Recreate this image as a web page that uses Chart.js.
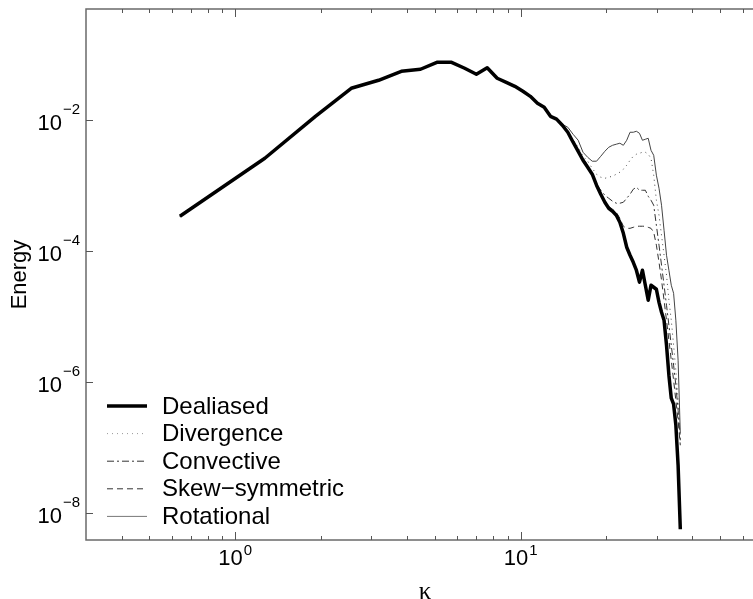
<!DOCTYPE html>
<html>
<head>
<meta charset="utf-8">
<script src="https://cdn.jsdelivr.net/npm/chart.js@4.4.1/dist/chart.umd.min.js"></script>
<style>
  html, body { margin: 0; padding: 0; background: #fff; overflow: hidden; }
  canvas { display: block; }
</style>
</head>
<body>
<canvas id="spectrum" width="780" height="599"></canvas>
<script>
// wavenumbers (kappa), one per shell
const kappa = [0.64, 1.27, 1.91, 2.55, 3.18, 3.82, 4.46, 5.09, 5.73, 6.37,
  7.00, 7.64, 8.28, 8.91, 9.55, 10.19, 10.82, 11.46, 12.10, 12.73,
  13.37, 14.01, 14.64, 15.28, 15.92, 16.55, 17.19, 17.83, 18.46, 19.10,
  19.74, 20.37, 21.01, 21.65, 22.28, 22.92, 23.55, 24.19, 24.83, 25.46,
  26.10, 26.74, 27.37, 28.01, 28.65, 29.28, 29.92, 30.56, 31.19, 31.83,
  32.47, 33.10, 33.74, 34.38, 35.01, 35.65, 36.29];

// low wavenumbers: all schemes lie on top of each other (k = 0.64 .. 13.37)
const commonLow = [3.42e-4, 2.63e-3, 1.15e-2, 3.08e-2, 4.08e-2, 5.60e-2, 6.01e-2, 7.68e-2, 7.68e-2, 6.22e-2,
  5.04e-2, 6.34e-2, 4.38e-2, 3.80e-2, 3.30e-2, 2.77e-2, 2.32e-2, 1.82e-2, 1.58e-2, 1.15e-2,
  1.04e-2];

const dealiasedHigh = [8.39e-3, 6.56e-3, 4.62e-3, 3.36e-3, 2.45e-3, 1.92e-3, 1.50e-3, 1.02e-3, 7.41e-4,
  5.60e-4, 4.53e-4, 4.08e-4, 3.55e-4, 2.77e-4, 1.88e-4, 1.15e-4, 8.69e-5, 6.79e-5, 5.13e-5,
  3.37e-5, 5.13e-5, 3.03e-5, 1.79e-5, 3.03e-5, 2.82e-5, 2.63e-5, 1.66e-5, 1.17e-5, 8.85e-6,
  3.67e-6, 1.28e-6, 5.70e-7, 4.62e-7, 2.21e-7, 5.41e-8, 5.70e-9];

const divergenceHigh = [8.39e-3, 6.79e-3, 4.95e-3, 3.87e-3, 2.82e-3, 2.37e-3, 1.85e-3, 1.50e-3, 1.35e-3,
  1.30e-3, 1.35e-3, 1.40e-3, 1.50e-3, 1.61e-3, 1.79e-3, 2.06e-3, 2.45e-3, 2.82e-3, 3.03e-3,
  3.13e-3, 3.25e-3, 3.25e-3, 3.03e-3, 2.63e-3, 1.45e-3, 6.01e-4, 3.55e-4, 1.75e-4, 8.69e-5,
  4.31e-5, 1.79e-5, 8.85e-6, 3.67e-6, 1.52e-6, 5.31e-7, 1.30e-7];

const convectiveHigh = [8.39e-3, 6.56e-3, 4.62e-3, 3.48e-3, 2.63e-3, 2.06e-3, 1.45e-3, 1.05e-3, 8.54e-4,
  7.16e-4, 6.44e-4, 5.80e-4, 5.41e-4, 5.41e-4, 5.60e-4, 6.44e-4, 7.41e-4, 8.85e-4, 9.49e-4,
  8.54e-4, 8.54e-4, 8.54e-4, 6.91e-4, 6.01e-4, 5.04e-4, 2.49e-4, 1.24e-4, 6.11e-5, 3.03e-5,
  1.50e-5, 7.42e-6, 3.67e-6, 1.82e-6, 9.00e-7, 3.74e-7, 1.30e-7];

const skewHigh = [8.39e-3, 6.56e-3, 4.62e-3, 3.36e-3, 2.45e-3, 1.92e-3, 1.50e-3, 1.02e-3, 7.41e-4,
  5.60e-4, 4.86e-4, 4.38e-4, 3.94e-4, 3.19e-4, 2.41e-4, 2.24e-4, 2.24e-4, 2.32e-4, 2.41e-4,
  2.41e-4, 2.41e-4, 2.41e-4, 2.32e-4, 2.24e-4, 1.95e-4, 1.24e-4, 6.79e-5, 3.61e-5, 1.79e-5,
  8.85e-6, 4.38e-6, 2.17e-6, 1.07e-6, 5.31e-7, 2.63e-7, 1.09e-7];

const rotationalHigh = [8.69e-3, 7.82e-3, 6.11e-3, 4.95e-3, 3.25e-3, 2.72e-3, 2.37e-3, 2.37e-3, 2.82e-3,
  3.36e-3, 3.87e-3, 4.15e-3, 4.31e-3, 4.46e-3, 4.15e-3, 4.95e-3, 6.56e-3, 6.56e-3, 6.79e-3,
  6.33e-3, 4.95e-3, 5.13e-3, 5.31e-3, 3.48e-3, 2.92e-3, 1.45e-3, 9.16e-4, 5.04e-4, 2.09e-4,
  8.69e-5, 5.13e-5, 3.03e-5, 2.28e-5, 8.85e-6, 2.17e-6, 1.66e-7];

const seriesNames = ['Dealiased', 'Divergence', 'Convective', 'Skew\u2212symmetric', 'Rotational'];

const xMajor = [1, 10];
const xMajorExp = ['0', '1'];
const xMinor = [0.4, 0.5, 0.6, 0.7, 0.8, 0.9, 2, 3, 4, 5, 6, 7, 8, 9, 20, 30, 40, 50, 60, 70];
const yMajor = [1e-2, 1e-4, 1e-6, 1e-8];
const yMajorExp = ['\u22122', '\u22124', '\u22126', '\u22128'];

function pts(values) {
    return values.map((v, i) => ({ x: kappa[i], y: v }));
}

const FONT = '"Liberation Sans", Arial, sans-serif';

// MATLAB-ish axes: box, inward ticks, 10^n labels, legend in the lower left
const axesPlugin = {
    id: 'matlabAxes',
    afterDraw(chart) {
        const ctx = chart.ctx;
        const ca = chart.chartArea;
        const xs = chart.scales.x;
        const ys = chart.scales.y;

        ctx.save();
        ctx.strokeStyle = '#6a6a6a';
        ctx.lineWidth = 1.5;
        ctx.strokeRect(ca.left, ca.top, ca.right - ca.left, ca.bottom - ca.top);

        ctx.lineWidth = 1;
        ctx.strokeStyle = '#555';
        ctx.beginPath();
        xMinor.forEach(v => {
            const px = Math.round(xs.getPixelForValue(v)) + 0.5;
            ctx.moveTo(px, ca.bottom); ctx.lineTo(px, ca.bottom - 4);
            ctx.moveTo(px, ca.top); ctx.lineTo(px, ca.top + 4);
        });
        xMajor.forEach(v => {
            const px = Math.round(xs.getPixelForValue(v)) + 0.5;
            ctx.moveTo(px, ca.bottom); ctx.lineTo(px, ca.bottom - 8);
            ctx.moveTo(px, ca.top); ctx.lineTo(px, ca.top + 8);
        });
        yMajor.forEach(v => {
            const py = Math.round(ys.getPixelForValue(v)) + 0.5;
            ctx.moveTo(ca.left, py); ctx.lineTo(ca.left + 7, py);
            ctx.moveTo(ca.right, py); ctx.lineTo(ca.right - 7, py);
        });
        ctx.stroke();

        // tick labels
        ctx.fillStyle = '#000';
        ctx.textBaseline = 'alphabetic';
        xMajor.forEach((v, i) => {
            const px = xs.getPixelForValue(v);
            ctx.font = '22px ' + FONT;
            const w1 = ctx.measureText('10').width;
            ctx.font = '15px ' + FONT;
            const w2 = ctx.measureText(xMajorExp[i]).width;
            const x0 = px - (w1 + w2 + 1) / 2;
            ctx.font = '22px ' + FONT;
            ctx.textAlign = 'left';
            ctx.fillText('10', x0, ca.bottom + 25);
            ctx.font = '15px ' + FONT;
            ctx.fillText(xMajorExp[i], x0 + w1 + 1, ca.bottom + 15);
        });
        yMajor.forEach((v, i) => {
            const py = ys.getPixelForValue(v);
            ctx.font = '15px ' + FONT;
            ctx.textAlign = 'right';
            const right = ca.left - 6;
            const w2 = ctx.measureText(yMajorExp[i]).width;
            ctx.fillText(yMajorExp[i], right, py - 6);
            ctx.font = '22px ' + FONT;
            ctx.fillText('10', right - w2 - 1, py + 10);
        });

        // axis titles
        ctx.textAlign = 'center';
        ctx.font = '25px "Liberation Serif", "DejaVu Serif", serif';
        ctx.fillText('\u03ba', (ca.left + ca.right) / 2, ca.bottom + 59);
        ctx.save();
        ctx.translate(20, (ca.top + ca.bottom) / 2);
        ctx.rotate(-Math.PI / 2);
        ctx.font = '22px ' + FONT;
        ctx.textBaseline = 'middle';
        ctx.fillText('Energy', 0, 0);
        ctx.restore();

        // legend
        ctx.textAlign = 'left';
        ctx.textBaseline = 'middle';
        ctx.font = '24px ' + FONT;
        chart.data.datasets.forEach((ds, i) => {
            const y = ca.bottom - 134 + i * 27.6;
            ctx.save();
            ctx.strokeStyle = ds.legendColor || ds.borderColor;
            ctx.lineWidth = ds.borderWidth;
            ctx.setLineDash(ds.borderDash || []);
            ctx.beginPath();
            ctx.moveTo(ca.left + 21, y);
            ctx.lineTo(ca.left + 61, y);
            ctx.stroke();
            ctx.restore();
            ctx.fillStyle = '#000';
            ctx.fillText(ds.label, ca.left + 76, y + 1);
        });
        ctx.restore();
    }
};

const data = {
    datasets: [{
        label: seriesNames[0],
        data: pts(commonLow.concat(dealiasedHigh)),
        borderColor: '#000',
        borderWidth: 3.5
    }, {
        label: seriesNames[1],
        data: pts(commonLow.concat(divergenceHigh)),
        borderColor: '#444',
        legendColor: '#999',
        borderWidth: 1,
        borderDash: [1, 4]
    }, {
        label: seriesNames[2],
        data: pts(commonLow.concat(convectiveHigh)),
        borderColor: '#333',
        borderWidth: 1,
        borderDash: [7, 3, 2, 3]
    }, {
        label: seriesNames[3],
        data: pts(commonLow.concat(skewHigh)),
        borderColor: '#333',
        borderWidth: 1,
        borderDash: [6, 4]
    }, {
        label: seriesNames[4],
        data: pts(commonLow.concat(rotationalHigh)),
        borderColor: '#444',
        legendColor: '#777',
        borderWidth: 1
    }]
};

new Chart(document.getElementById('spectrum').getContext('2d'), {
    type: 'line',
    data: data,
    options: {
        responsive: false,
        animation: false,
        layout: { padding: { left: 86, top: 9, right: 16, bottom: 59 } },
        elements: {
            point: { radius: 0 },
            line: { tension: 0, borderJoinStyle: 'round' }
        },
        scales: {
            x: { type: 'logarithmic', min: 0.3, max: 71.3, display: false },
            y: { type: 'logarithmic', min: 3.9e-9, max: 0.5, display: false }
        },
        plugins: {
            legend: { display: false },
            tooltip: { enabled: false }
        }
    },
    plugins: [axesPlugin]
});
</script>
</body>
</html>
